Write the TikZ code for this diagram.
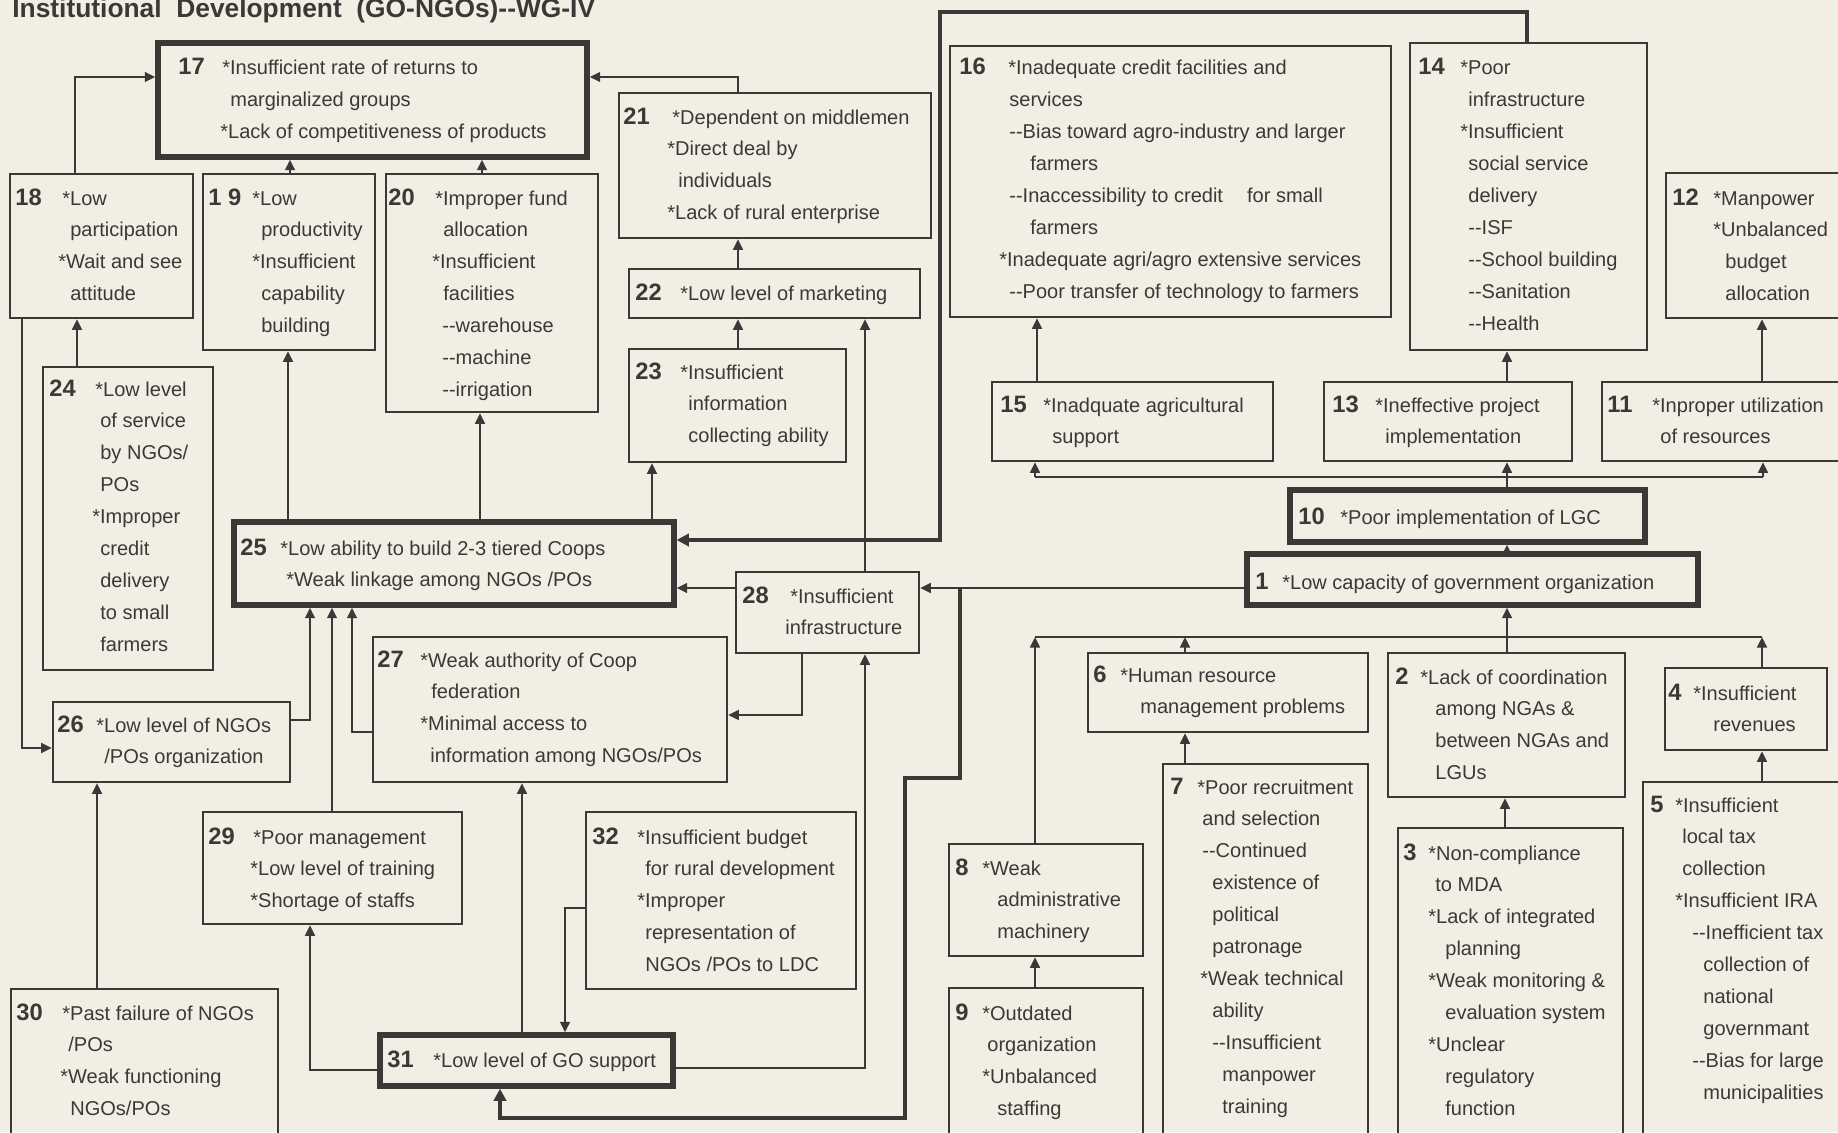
\documentclass[tikz,border=0pt]{standalone}
\usepackage{fontspec}
\setmainfont{Liberation Sans}
\usetikzlibrary{arrows.meta,fit}
\definecolor{bgc}{RGB}{241,238,228}
\definecolor{ink}{RGB}{62,55,55}
\newlength\pxu \setlength\pxu{0.02cm}
\newcommand\ihs[1]{\hspace*{#1\pxu}}
\newcommand\dsh{-{}-}
\newcommand\boxlines[1]{\begin{tabular}[t]{@{}l@{}}#1\end{tabular}}
\tikzset{
  gbox/.style={draw=ink, line width=1.4pt, inner sep=0pt},
  tgbox/.style={gbox, line width=3pt},
  gline/.style={draw=ink, line width=1.4pt},
  garr/.style={draw=ink, line width=1.4pt, -{Triangle[width=5.5pt,length=6pt]}},
  tgarr/.style={draw=ink, line width=2.6pt, -{Triangle[width=7pt,length=7pt]}},
  gnum/.style={font=\fontsize{13.5}{15}\selectfont\bfseries, text=ink, anchor=base west, inner sep=0pt},
  gtxt/.style={font=\fontsize{11.4}{18.2}\selectfont, text=ink, anchor=base west, inner sep=0pt},
}
\begin{document}
\begin{tikzpicture}[x=0.02cm, y=-0.02cm]
\useasboundingbox (0,0) rectangle (1838,1132);
\clip (0,0) rectangle (1838,1132);
\fill[bgc] (0,0) rectangle (1838,1132);

\node[font=\fontsize{15}{18}\selectfont\bfseries, text=ink, anchor=base west, inner sep=0pt] (title) at (12,18) {Institutional\ \ Development\ \ (GO-NGOs)\dsh WG-IV};

% ---------------- boxes ----------------
\node[tgbox, fit={(158,43) (587,157)}] (b17) {};
\node[gbox, fit={(10,174) (193,318)}] (b18) {};
\node[gbox, fit={(203,174) (375,350)}] (b19) {};
\node[gbox, fit={(386,174) (598,412)}] (b20) {};
\node[gbox, fit={(619,93) (931,238)}] (b21) {};
\node[gbox, fit={(629,269) (920,318)}] (b22) {};
\node[gbox, fit={(629,349) (846,462)}] (b23) {};
\node[gbox, fit={(950,46) (1391,317)}] (b16) {};
\node[gbox, fit={(1410,43) (1647,350)}] (b14) {};
\node[gbox, fit={(1666,173) (1850,318)}] (b12) {};
\node[gbox, fit={(992,382) (1273,461)}] (b15) {};
\node[gbox, fit={(1324,382) (1572,461)}] (b13) {};
\node[gbox, fit={(1602,382) (1850,461)}] (b11) {};
\node[tgbox, fit={(1290,490) (1645,542)}] (b10) {};
\node[tgbox, fit={(1247,554) (1698,605)}] (b1) {};
\node[gbox, fit={(1088,653) (1368,732)}] (b6) {};
\node[gbox, fit={(1388,653) (1625,797)}] (b2) {};
\node[gbox, fit={(1665,668) (1827,750)}] (b4) {};
\node[gbox, fit={(1643,782) (1850,1145)}] (b5) {};
\node[gbox, fit={(1398,828) (1623,1145)}] (b3) {};
\node[gbox, fit={(1163,764) (1368,1145)}] (b7) {};
\node[gbox, fit={(949,844) (1143,956)}] (b8) {};
\node[gbox, fit={(949,988) (1143,1145)}] (b9) {};
\node[gbox, fit={(736,572) (919,653)}] (b28) {};
\node[tgbox, fit={(234,522) (674,605)}] (b25) {};
\node[gbox, fit={(43,367) (213,670)}] (b24) {};
\node[gbox, fit={(53,702) (290,782)}] (b26) {};
\node[gbox, fit={(373,637) (727,782)}] (b27) {};
\node[gbox, fit={(203,812) (462,924)}] (b29) {};
\node[gbox, fit={(11,989) (278,1145)}] (b30) {};
\node[tgbox, fit={(380,1035) (673,1086)}] (b31) {};
\node[gbox, fit={(586,812) (856,989)}] (b32) {};

% ---------------- texts ----------------
\node[gnum] (n17) at (178,75) {17};
\node[gtxt] (t17) at (220,75) {\boxlines{\ihs{2}*Insufficient rate of returns to\\ \ihs{10}marginalized groups\\ \ihs{0}*Lack of competitiveness of products}};
\node[gnum] (n18) at (15,205) {18};
\node[gtxt] (t18) at (58,205) {\boxlines{\ihs{4}*Low\\ \ihs{12}participation\\ \ihs{0}*Wait and see\\ \ihs{12}attitude}};
\node[gnum] (n19) at (208,205) {1 9};
\node[gtxt] (t19) at (252,205) {\boxlines{\ihs{0}*Low\\ \ihs{9}productivity\\ \ihs{0}*Insufficient\\ \ihs{9}capability\\ \ihs{9}building}};
\node[gnum] (n20) at (388,205) {20};
\node[gtxt] (t20) at (432,205) {\boxlines{\ihs{3}*Improper fund\\ \ihs{11}allocation\\ \ihs{0}*Insufficient\\ \ihs{11}facilities\\ \ihs{10}\dsh warehouse\\ \ihs{10}\dsh machine\\ \ihs{10}\dsh irrigation}};
\node[gnum] (n21) at (623,124) {21};
\node[gtxt] (t21) at (667,124) {\boxlines{\ihs{5}*Dependent on middlemen\\ \ihs{0}*Direct deal by\\ \ihs{11}individuals\\ \ihs{0}*Lack of rural enterprise}};
\node[gnum] (n22) at (635,300) {22};
\node[gtxt] (t22) at (680,300) {*Low level of marketing};
\node[gnum] (n23) at (635,379) {23};
\node[gtxt] (t23) at (680,379) {\boxlines{\ihs{0}*Insufficient\\ \ihs{8}information\\ \ihs{8}collecting ability}};
\node[gnum] (n16) at (959,75) {16};
\node[gtxt] (t16) at (999,75) {\boxlines{\ihs{9}*Inadequate credit facilities and\\ \ihs{10}services\\ \ihs{10}\dsh Bias toward agro-industry and larger\\ \ihs{31}farmers\\ \ihs{10}\dsh Inaccessibility to credit\hspace{1.2em}for small\\ \ihs{31}farmers\\ \ihs{0}*Inadequate agri/agro extensive services\\ \ihs{10}\dsh Poor transfer of technology to farmers}};
\node[gnum] (n14) at (1418,75) {14};
\node[gtxt] (t14) at (1460,75) {\boxlines{\ihs{0}*Poor\\ \ihs{8}infrastructure\\ \ihs{0}*Insufficient\\ \ihs{8}social service\\ \ihs{8}delivery\\ \ihs{8}\dsh ISF\\ \ihs{8}\dsh School building\\ \ihs{8}\dsh Sanitation\\ \ihs{8}\dsh Health}};
\node[gnum] (n12) at (1672,205) {12};
\node[gtxt] (t12) at (1713,205) {\boxlines{\ihs{0}*Manpower\\ \ihs{0}*Unbalanced\\ \ihs{12}budget\\ \ihs{12}allocation}};
\node[gnum] (n15) at (1000,412) {15};
\node[gtxt] (t15) at (1043,412) {\boxlines{\ihs{0}*Inadquate agricultural\\ \ihs{9}support}};
\node[gnum] (n13) at (1332,412) {13};
\node[gtxt] (t13) at (1375,412) {\boxlines{\ihs{0}*Ineffective project\\ \ihs{10}implementation}};
\node[gnum] (n11) at (1607,412) {11};
\node[gtxt] (t11) at (1652,412) {\boxlines{\ihs{0}*Inproper utilization\\ \ihs{8}of resources}};
\node[gnum] (n10) at (1298,524) {10};
\node[gtxt] (t10) at (1340,524) {*Poor implementation of LGC};
\node[gnum] (n1) at (1255,589) {1};
\node[gtxt] (t1) at (1282,589) {*Low capacity of government organization};
\node[gnum] (n6) at (1093,682) {6};
\node[gtxt] (t6) at (1120,682) {\boxlines{\ihs{0}*Human resource\\ \ihs{20}management problems}};
\node[gnum] (n2) at (1395,684) {2};
\node[gtxt] (t2) at (1420,684) {\boxlines{\ihs{0}*Lack of coordination\\ \ihs{15}among NGAs \&\\ \ihs{15}between NGAs and\\ \ihs{15}LGUs}};
\node[gnum] (n4) at (1668,700) {4};
\node[gtxt] (t4) at (1693,700) {\boxlines{\ihs{0}*Insufficient\\ \ihs{20}revenues}};
\node[gnum] (n5) at (1650,812) {5};
\node[gtxt] (t5) at (1675,812) {\boxlines{\ihs{0}*Insufficient\\ \ihs{7}local tax\\ \ihs{7}collection\\ \ihs{0}*Insufficient IRA\\ \ihs{17}\dsh Inefficient tax\\ \ihs{28}collection of\\ \ihs{28}national\\ \ihs{28}governmant\\ \ihs{17}\dsh Bias for large\\ \ihs{28}municipalities}};
\node[gnum] (n3) at (1403,860) {3};
\node[gtxt] (t3) at (1428,860) {\boxlines{\ihs{0}*Non-compliance\\ \ihs{7}to MDA\\ \ihs{0}*Lack of integrated\\ \ihs{17}planning\\ \ihs{0}*Weak monitoring \&\\ \ihs{17}evaluation system\\ \ihs{0}*Unclear\\ \ihs{17}regulatory\\ \ihs{17}function}};
\node[gnum] (n7) at (1170,794) {7};
\node[gtxt] (t7) at (1197,794) {\boxlines{\ihs{0}*Poor recruitment\\ \ihs{5}and selection\\ \ihs{5}\dsh Continued\\ \ihs{15}existence of\\ \ihs{15}political\\ \ihs{15}patronage\\ \ihs{3}*Weak technical\\ \ihs{15}ability\\ \ihs{15}\dsh Insufficient\\ \ihs{25}manpower\\ \ihs{25}training}};
\node[gnum] (n8) at (955,875) {8};
\node[gtxt] (t8) at (982,875) {\boxlines{\ihs{0}*Weak\\ \ihs{15}administrative\\ \ihs{15}machinery}};
\node[gnum] (n9) at (955,1020) {9};
\node[gtxt] (t9) at (982,1020) {\boxlines{\ihs{0}*Outdated\\ \ihs{5}organization\\ \ihs{0}*Unbalanced\\ \ihs{15}staffing}};
\node[gnum] (n28) at (742,603) {28};
\node[gtxt] (t28) at (785,603) {\boxlines{\ihs{5}*Insufficient\\ \ihs{0}infrastructure}};
\node[gnum] (n25) at (240,555) {25};
\node[gtxt] (t25) at (280,555) {\boxlines{\ihs{0}*Low ability to build 2-3 tiered Coops\\ \ihs{6}*Weak linkage among NGOs /POs}};
\node[gnum] (n24) at (49,396) {24};
\node[gtxt] (t24) at (92,396) {\boxlines{\ihs{3}*Low level\\ \ihs{8}of service\\ \ihs{8}by NGOs/\\ \ihs{8}POs\\ \ihs{0}*Improper\\ \ihs{8}credit\\ \ihs{8}delivery\\ \ihs{8}to small\\ \ihs{8}farmers}};
\node[gnum] (n26) at (57,732) {26};
\node[gtxt] (t26) at (96,732) {\boxlines{\ihs{0}*Low level of NGOs\\ \ihs{8}/POs organization}};
\node[gnum] (n27) at (377,667) {27};
\node[gtxt] (t27) at (420,667) {\boxlines{\ihs{0}*Weak authority of Coop\\ \ihs{11}federation\\ \ihs{0}*Minimal access to\\ \ihs{10}information among NGOs/POs}};
\node[gnum] (n29) at (208,844) {29};
\node[gtxt] (t29) at (250,844) {\boxlines{\ihs{3}*Poor management\\ \ihs{0}*Low level of training\\ \ihs{0}*Shortage of staffs}};
\node[gnum] (n30) at (16,1020) {30};
\node[gtxt] (t30) at (60,1020) {\boxlines{\ihs{2}*Past failure of NGOs\\ \ihs{8}/POs\\ \ihs{0}*Weak functioning\\ \ihs{10}NGOs/POs}};
\node[gnum] (n31) at (387,1067) {31};
\node[gtxt] (t31) at (433,1067) {*Low level of GO support};
\node[gnum] (n32) at (592,844) {32};
\node[gtxt] (t32) at (637,844) {\boxlines{\ihs{0}*Insufficient budget\\ \ihs{8}for rural development\\ \ihs{0}*Improper\\ \ihs{8}representation of\\ \ihs{8}NGOs /POs to LDC}};

% ---------------- connectors: left part ----------------
\draw[garr] (b18.north -| 75,0) |- (b17.west |- 0,77);
\draw[garr] (b19.north -| 290,0) -- (b17.south -| 290,0);
\draw[garr] (b20.north -| 482,0) -- (b17.south -| 482,0);
\draw[garr] (b21.north -| 738,0) |- (b17.east |- 0,77);
\draw[garr] (b22.north -| 738,0) -- (b21.south -| 738,0);
\draw[garr] (b23.north -| 738,0) -- (b22.south -| 738,0);
\draw[garr] (b28.north -| 865,0) -- (b22.south -| 865,0);
\draw[garr] (b24.north -| 77,0) -- (b18.south -| 77,0);
\draw[garr] (b25.north -| 288,0) -- (b19.south -| 288,0);
\draw[garr] (b25.north -| 480,0) -- (b20.south -| 480,0);
\draw[garr] (b25.north -| 652,0) -- (b23.south -| 652,0);
\draw[tgarr] (b14.north -| 1527,0) |- (940,12) |- (b25.east |- 0,540);
\draw[garr] (b28.west |- 0,588) -- (b25.east |- 0,588);
\coordinate (j1) at (960,588);
\draw[garr] (b1.west |- 0,588) -- (b28.east |- 0,588);
\draw[tgarr] (j1) |- (905,778) -- (905,1118) -| (b31.south -| 500,0);
\draw[garr] (b26.east |- 0,720) -| (b25.south -| 310,0);
\draw[garr] (b29.north -| 332,0) -- (b25.south -| 332,0);
\draw[garr] (b27.west |- 0,732) -| (b25.south -| 352,0);
\draw[garr] (b18.south -| 22,0) |- (b26.west |- 0,748);
\draw[garr] (b30.north -| 97,0) -- (b26.south -| 97,0);
\draw[garr] (b31.west |- 0,1070) -| (b29.south -| 310,0);
\draw[garr] (b31.north -| 522,0) -- (b27.south -| 522,0);
\draw[garr] (b32.west |- 0,908) -| (b31.north -| 565,0);
\draw[garr] (b31.east |- 0,1068) -| (b28.south -| 865,0);
\draw[garr] (b28.south -| 802,0) |- (b27.east |- 0,715);

% ---------------- connectors: right part ----------------
\draw[garr] (b15.north -| 1037,0) -- (b16.south -| 1037,0);
\draw[garr] (b13.north -| 1507,0) -- (b14.south -| 1507,0);
\draw[garr] (b11.north -| 1762,0) -- (b12.south -| 1762,0);
\draw[garr] (b10.north -| 1507,0) -- (b13.south -| 1507,0);
\coordinate (busA) at (1035,477);
\coordinate (busB) at (1763,477);
\draw[gline] (busA) -- (busB);
\draw[garr] (busA) -- (b15.south -| busA);
\draw[garr] (busB) -- (b11.south -| busB);
\draw[garr] (b1.north -| 1507,0) -- (b10.south -| 1507,0);
\draw[garr] (b2.north -| 1507,0) -- (b1.south -| 1507,0);
\coordinate (busC) at (1035,637);
\coordinate (busD) at (1762,637);
\draw[gline] (busC) -- (busD);
\draw[garr] (b8.north -| busC) -- (busC);
\draw[garr] (b6.north -| 1185,0) -- (busC -| 1185,0);
\draw[garr] (b4.north -| busD) -- (busD);
\draw[garr] (b7.north -| 1185,0) -- (b6.south -| 1185,0);
\draw[garr] (b9.north -| 1035,0) -- (b8.south -| 1035,0);
\draw[garr] (b3.north -| 1505,0) -- (b2.south -| 1505,0);
\draw[garr] (b5.north -| 1762,0) -- (b4.south -| 1762,0);
\end{tikzpicture}
\end{document}
